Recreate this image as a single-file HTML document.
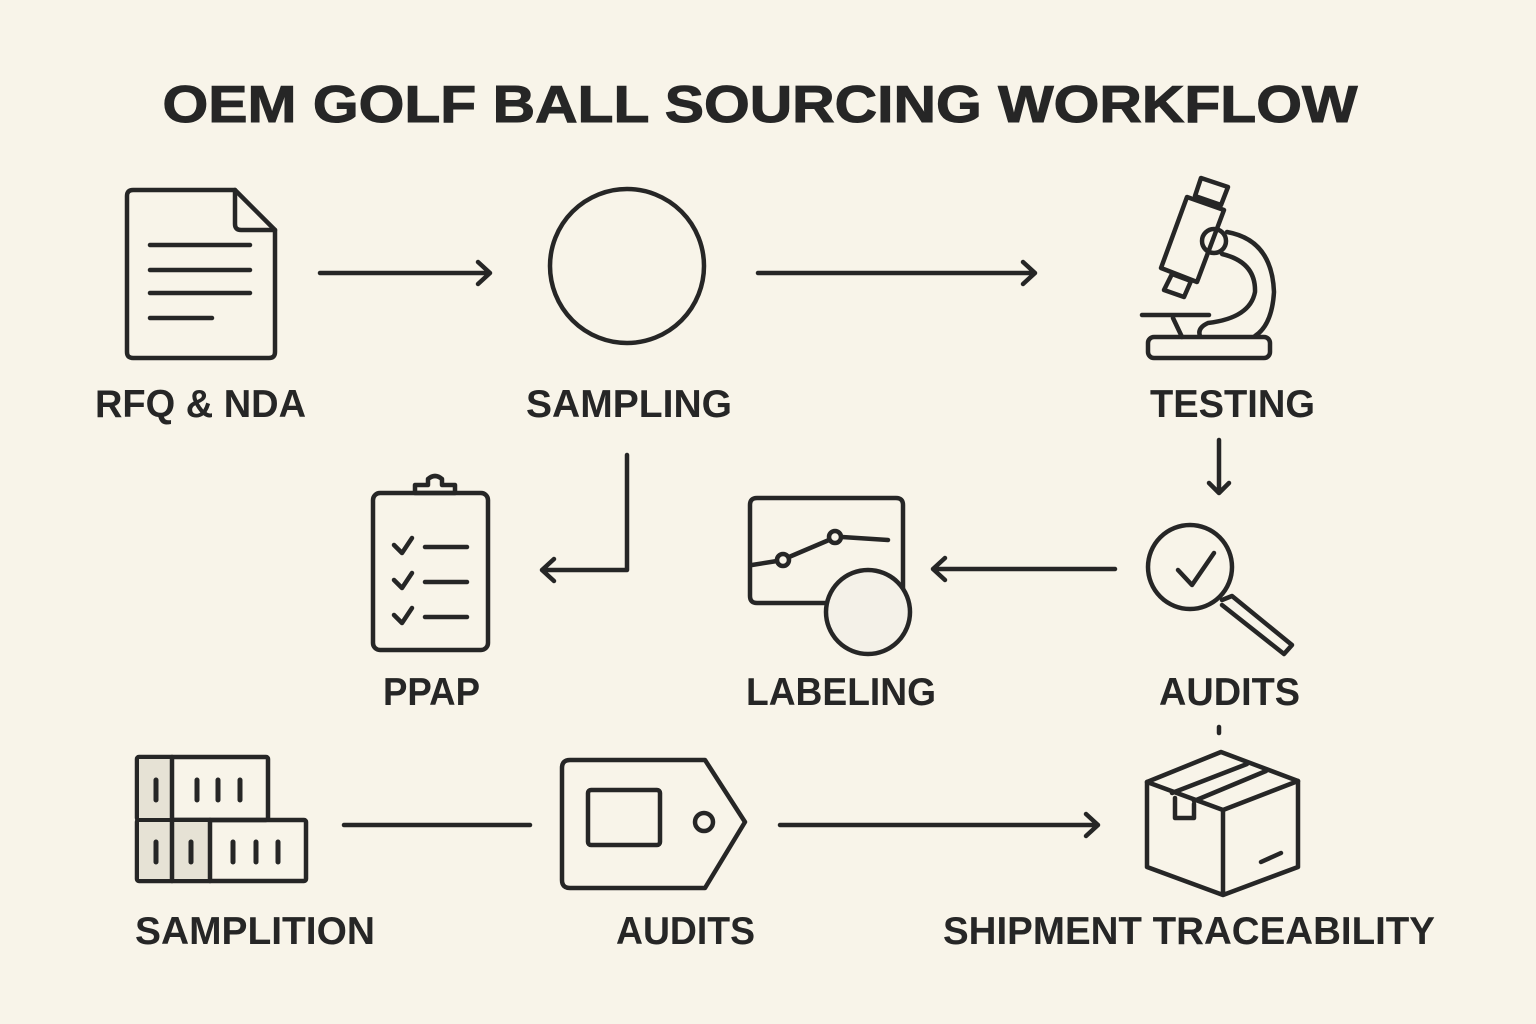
<!DOCTYPE html>
<html><head><meta charset="utf-8"><style>
html,body{margin:0;padding:0;background:#f8f4e9;}
svg{display:block}
text{font-family:"Liberation Sans",sans-serif;font-weight:bold;fill:#262626;}
</style></head><body>
<svg width="1536" height="1024" viewBox="0 0 1536 1024" xmlns="http://www.w3.org/2000/svg">
<rect width="1536" height="1024" fill="#f8f4e9"/>
<text x="760" y="122" font-size="52" text-anchor="middle" textLength="1195" lengthAdjust="spacingAndGlyphs" stroke="#262626" stroke-width="1">OEM GOLF BALL SOURCING WORKFLOW</text>
<g fill="none" stroke="#262626" stroke-width="4.5" stroke-linecap="round" stroke-linejoin="round">
<path d="M133 190 H235 L275 230 V352 Q275 358 269 358 H133 Q127 358 127 352 V196 Q127 190 133 190 Z"/>
<path d="M235 190 V224 Q235 230 241 230 H275"/>
<path d="M150 245H250M150 270H250M150 293H250M150 318H212"/>
<path d="M320 273H490M478 262L490 273L478 284"/>
<circle cx="627" cy="266" r="77"/>
<path d="M758 273H1035M1023 262L1035 273L1023 284"/>
<path d="M1201 178L1228 187L1221 205L1195 196Z"/>
<path d="M1187 197L1224 210L1197 282L1161 268Z"/>
<path d="M1172 274L1191 281L1184 297L1164 290Z"/>
<circle cx="1214" cy="241" r="12"/>
<path d="M1227 232Q1272 240 1274 292Q1272 325 1255 336"/>
<path d="M1222 254Q1256 262 1255 292Q1250 318 1208 323Q1197 328 1200 336"/>
<rect x="1148" y="337" width="122" height="21" rx="6"/>
<path d="M1142 315H1209M1173 318L1182 337"/>
<path d="M627 455V570H542M554 559L542 570L554 581"/>
<rect x="373" y="493" width="115" height="157" rx="7"/>
<path d="M415 493V485H428V479Q435 473 442 479V485H455V493Z"/>
<path d="M394 545L402 553L412 538M425 547H467M394 580L402 588L412 573M425 582H467M394 615L402 623L412 608M425 617H467"/>
<path d="M830 603H757Q750 603 750 596V505Q750 498 757 498H896Q903 498 903 505V590"/>
<path d="M752 565L777 561M789 557L829 540M842 537L888 540"/>
<circle cx="783" cy="560" r="6"/>
<circle cx="835" cy="537" r="6"/>
<circle cx="868" cy="612" r="42" fill="#f4f1e8"/>
<path d="M1115 569H933M945 558L933 569L945 580"/>
<path d="M1219 440V493M1209 483L1219 493L1229 483"/>
<circle cx="1190" cy="567" r="42"/>
<path d="M1178 570L1192 585L1214 553"/>
<path d="M1222 600L1232 596L1292 645L1284 654L1222 605"/>
<path d="M1219 727V733"/>
<rect x="137" y="757" width="131" height="63" rx="2"/>
<rect x="137" y="820" width="169" height="61" rx="2"/>
<rect x="139" y="759" width="33" height="59" fill="#e6e2d5" stroke="none"/>
<rect x="139" y="822" width="33" height="57" fill="#e6e2d5" stroke="none"/>
<rect x="174" y="822" width="36" height="57" fill="#e6e2d5" stroke="none"/>
<path d="M172 757V881M210 820V881"/>
<path d="M156 780V800M197 780V800M218 780V800M240 780V800M156 842V862M191 842V862M233 842V862M256 842V862M278 842V862" stroke-width="5"/>
<path d="M344 825H530"/>
<path d="M570 760H705L745 822L705 888H570Q562 888 562 880V768Q562 760 570 760Z"/>
<rect x="588" y="790" width="72" height="55" rx="3"/>
<circle cx="704" cy="822" r="9"/>
<path d="M780 825H1098M1086 814L1098 825L1086 836"/>
<path d="M1221 752L1147 782L1223 810L1298 781Z"/>
<path d="M1147 782V867L1223 895L1298 867V781M1223 810V895"/>
<path d="M1172 793L1247 764M1194 801L1266 771"/>
<path d="M1175 798V818H1194V804"/>
<path d="M1261 862L1281 853"/>
</g>
<g font-size="39" lengthAdjust="spacingAndGlyphs">
<text x="95" y="417" textLength="211" lengthAdjust="spacingAndGlyphs">RFQ &amp; NDA</text>
<text x="526" y="417" textLength="206" lengthAdjust="spacingAndGlyphs">SAMPLING</text>
<text x="1150" y="417" textLength="165" lengthAdjust="spacingAndGlyphs">TESTING</text>
<text x="383" y="705" textLength="97" lengthAdjust="spacingAndGlyphs">PPAP</text>
<text x="746" y="705" textLength="190" lengthAdjust="spacingAndGlyphs">LABELING</text>
<text x="1159" y="705" textLength="141" lengthAdjust="spacingAndGlyphs">AUDITS</text>
<text x="135" y="944" textLength="240" lengthAdjust="spacingAndGlyphs">SAMPLITION</text>
<text x="616" y="944" textLength="139" lengthAdjust="spacingAndGlyphs">AUDITS</text>
<text x="943" y="944" textLength="492" lengthAdjust="spacingAndGlyphs">SHIPMENT TRACEABILITY</text>
</g>
</svg>
</body></html>
